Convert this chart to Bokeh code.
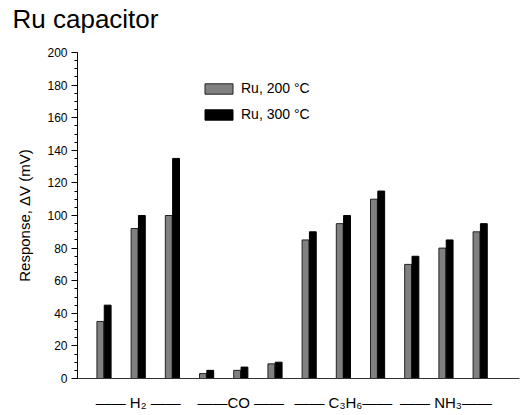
from bokeh.plotting import figure
from bokeh.models import (Range1d, SingleIntervalTicker, FixedTicker,
                          Legend, LegendItem, ColumnDataSource)
from bokeh.embed import file_html
from bokeh.resources import INLINE

# ---- data ----
gases = ["H2", "CO", "C3H6", "NH3"]
gas_labels = ["—— H₂ ——", "——CO ——", "—— C₃H₆——", "—— NH₃——"]
positions = [1, 2, 3, 4, 5, 6, 7, 8, 9, 10, 11, 12]
ru_200 = [35, 92, 100, 3, 5, 9, 85, 95, 110, 70, 80, 90]
ru_300 = [45, 100, 135, 5, 7, 10, 90, 100, 115, 75, 85, 95]
series_names = ["Ru, 200 °C", "Ru, 300 °C"]
title_text = "Ru capacitor"
y_label = "Response, ΔV (mV)"

FONT = "Liberation Sans"

p = figure(width=521, height=415, output_backend="svg", toolbar_location=None,
           x_range=Range1d(0.225, 13.15), y_range=Range1d(0, 200),
           min_border_left=77, min_border_right=2, min_border_top=52,
           min_border_bottom=37)
p.outline_line_color = None
p.xgrid.visible = False
p.ygrid.visible = False
p.background_fill_color = "white"

p.title.text = title_text + "\n "
p.title.text_font = FONT
p.title.text_font_size = "26px"
p.title.text_font_style = "normal"
p.title.text_color = "black"
p.title.align = "left"
p.title.text_line_height = 0.62
p.title.offset = -65
p.title.standoff = 0

src = ColumnDataSource(dict(
    x200=[x - 0.107 for x in positions],
    x300=[x + 0.107 for x in positions],
    y200=ru_200, y300=ru_300))

r1 = p.vbar(x="x200", top="y200", width=0.2, source=src,
            fill_color="#808080", line_color="#222222", line_width=1)
r2 = p.vbar(x="x300", top="y300", width=0.2, source=src,
            fill_color="black", line_color="black", line_width=1)

# y axis
ya = p.yaxis[0]
ya.ticker = SingleIntervalTicker(interval=20, num_minor_ticks=4)
ya.axis_label = y_label
ya.axis_label_text_font = FONT
ya.axis_label_text_font_size = "15px"
ya.axis_label_text_font_style = "normal"
ya.axis_label_text_color = "black"
ya.axis_label_standoff = 11
ya.major_label_text_font = FONT
ya.major_label_text_font_size = "12px"
ya.major_label_text_color = "black"
ya.major_label_standoff = 4
ya.major_tick_in = 0
ya.major_tick_out = 6
ya.minor_tick_in = 0
ya.minor_tick_out = 3
ya.axis_line_color = "black"
ya.major_tick_line_color = "black"
ya.minor_tick_line_color = "black"

# x axis: line + group labels
centers = [sum(positions[g * 3:g * 3 + 3]) / 3.0 for g in range(len(gases))]
xa = p.xaxis[0]
xa.ticker = FixedTicker(ticks=centers)
xa.major_label_overrides = {c: lab for c, lab in zip(centers, gas_labels)}
xa.major_tick_line_color = None
xa.minor_tick_line_color = None
xa.major_tick_in = 0
xa.major_tick_out = 0
xa.major_label_standoff = 15
xa.major_label_text_font = FONT
xa.major_label_text_font_size = "15px"
xa.major_label_text_color = "black"
xa.axis_line_color = "#333333"

legend = Legend(items=[LegendItem(label=series_names[0], renderers=[r1]),
                       LegendItem(label=series_names[1], renderers=[r2])],
                location=(124, 256), padding=0, spacing=10, margin=0,
                glyph_width=35, glyph_height=13, label_height=13,
                label_standoff=5, label_text_font=FONT,
                label_text_font_size="14px", label_text_color="black",
                border_line_color=None, background_fill_alpha=0)
p.add_layout(legend)

open("out.html", "w").write(file_html(p, INLINE))
